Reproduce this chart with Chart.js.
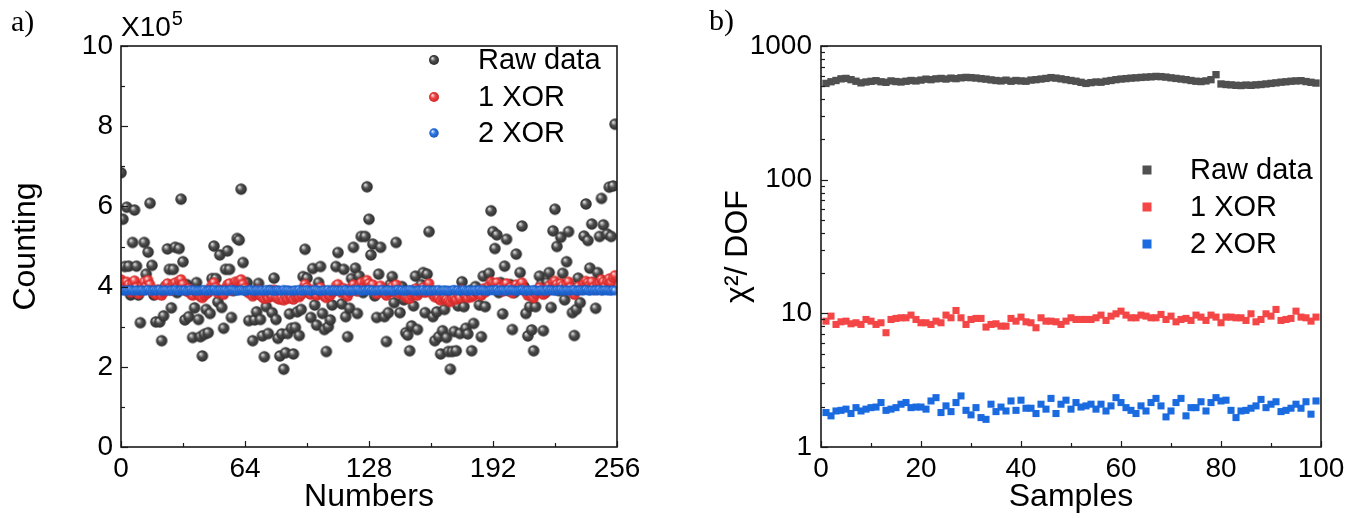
<!DOCTYPE html>
<html><head><meta charset="utf-8">
<script src="https://cdn.jsdelivr.net/npm/chart.js@4.4.1/dist/chart.umd.min.js"></script>
<style>
html,body{margin:0;padding:0;background:#fff;}
#wrap{position:relative;width:1362px;height:518px;overflow:hidden;background:#fff;}
canvas{position:absolute;top:0;}
#c1{left:0;} #c2{left:681px;}
</style></head><body>
<div id="wrap"><canvas id="c1" width="681" height="518"></canvas><canvas id="c2" width="681" height="518"></canvas></div>
<script>
// ---------- Panel a) data (Counting in units of 10^5) ----------
const seriesLabels = ['Raw data', '1 XOR', '2 XOR'];
const numberTicks = [0, 64, 128, 192, 256];
const countingTicks = [0, 2, 4, 6, 8, 10];
const numbers = Array.from({length: 256}, (_, i) => i);
const rawCounts = [
6.84,5.68,4.50,5.98,4.51,3.79,5.10,5.91,4.51,3.79,3.10,4.00,5.10,4.31,4.86,6.08,
4.53,3.79,3.12,3.90,3.12,2.65,3.27,4.00,4.94,4.43,3.47,4.43,4.98,3.85,4.95,6.18,
4.62,3.17,4.05,3.25,3.90,2.73,3.47,4.10,3.18,2.75,2.27,2.81,3.43,2.85,3.33,4.20,
5.01,4.20,3.62,4.79,3.48,2.96,4.43,4.89,4.43,3.23,3.90,4.05,5.20,5.16,6.43,4.60,
3.95,4.10,3.15,3.85,2.65,3.17,3.37,4.08,3.18,2.77,2.25,3.50,2.83,3.90,3.35,4.21,
3.18,2.71,2.27,2.82,1.94,2.35,2.83,3.32,2.96,2.32,2.98,3.37,2.78,3.43,4.25,4.93,
4.21,3.85,3.23,4.45,3.54,3.04,4.10,4.50,3.33,2.93,2.38,3.00,3.17,3.54,3.90,4.50,
4.85,3.95,3.57,4.43,3.25,2.75,3.46,4.20,4.98,4.46,3.33,4.26,5.25,3.85,5.25,6.49,
5.68,4.79,5.06,3.77,3.23,4.31,4.98,3.90,3.25,2.63,3.35,4.05,4.25,3.60,5.10,3.90,
3.35,4.00,3.67,2.85,2.79,2.40,3.02,3.52,4.26,2.93,3.85,4.05,4.35,3.35,4.31,5.37,
3.90,3.25,2.65,3.37,2.75,2.32,2.90,3.43,2.73,2.38,1.94,2.38,2.88,2.40,3.52,2.83,
4.12,3.50,2.96,2.82,3.90,2.40,3.08,4.00,3.85,3.54,2.75,4.26,3.50,3.95,4.33,5.89,
5.37,4.95,5.29,3.85,4.10,3.32,4.51,5.18,3.90,4.05,2.93,3.85,4.81,3.95,4.35,5.51,
4.00,3.33,2.77,3.50,2.92,2.40,3.50,3.90,4.26,4.05,2.90,3.85,4.10,4.35,3.48,5.39,
5.93,5.00,3.90,5.23,4.33,3.67,4.62,5.37,4.00,3.35,2.78,3.43,4.21,3.60,3.95,5.26,
6.06,5.15,4.46,5.56,4.10,3.46,4.35,5.25,6.20,5.54,4.05,5.31,6.48,5.25,6.51,8.05];
const xor1Counts = [
4.18,4.10,3.95,4.12,4.05,3.86,4.08,4.15,3.98,3.82,3.90,4.02,4.12,4.00,4.16,4.05,
3.88,3.85,3.80,3.92,3.84,3.78,3.86,4.02,4.08,3.95,3.90,4.06,4.10,3.98,4.14,4.18,
4.06,3.92,3.88,3.95,3.82,3.78,3.90,3.86,3.80,3.75,3.72,3.78,3.82,3.85,3.96,4.04,
4.10,3.98,3.84,3.92,3.86,3.80,3.95,4.05,4.08,3.90,3.98,4.12,4.10,4.14,4.18,4.06,
3.96,3.88,3.84,3.90,3.76,3.82,3.86,3.92,3.78,3.74,3.70,3.78,3.72,3.82,3.76,3.92,
3.74,3.70,3.68,3.72,3.66,3.74,3.70,3.78,3.72,3.68,3.76,3.82,3.74,3.80,3.95,4.06,
3.98,3.86,3.80,3.92,3.84,3.78,3.90,3.98,3.82,3.76,3.72,3.80,3.78,3.86,3.90,4.02,
4.06,3.92,3.84,3.96,3.82,3.76,3.86,3.98,4.05,3.95,3.88,4.02,4.10,3.96,4.12,4.16,
4.08,4.00,4.05,3.88,3.82,3.95,4.02,3.90,3.84,3.78,3.86,3.92,4.00,3.86,4.05,3.90,
3.82,3.88,3.80,3.74,3.72,3.70,3.78,3.84,3.95,3.78,3.86,3.92,3.98,3.85,3.96,4.08,
3.90,3.80,3.74,3.78,3.70,3.66,3.72,3.76,3.68,3.64,3.62,3.70,3.74,3.68,3.80,3.72,
3.92,3.82,3.76,3.72,3.84,3.74,3.78,3.88,3.86,3.82,3.78,3.95,3.86,3.92,4.02,4.12,
4.08,4.05,4.10,3.96,3.98,3.88,4.04,4.08,3.94,3.98,3.84,3.92,4.05,3.96,4.02,4.10,
3.95,3.86,3.78,3.84,3.76,3.72,3.82,3.90,3.98,3.88,3.80,3.86,3.94,4.02,3.92,4.10,
4.14,4.06,3.96,4.08,4.02,3.92,4.05,4.12,3.98,3.86,3.80,3.90,4.00,3.92,3.96,4.08,
4.14,4.10,4.04,4.12,3.98,3.92,4.06,4.10,4.18,4.12,4.00,4.14,4.20,4.10,4.22,4.28];
const xor2Counts = [
3.91,3.90,3.89,3.91,3.90,3.92,3.90,3.89,3.91,3.90,3.90,3.91,3.89,3.90,3.92,3.90,
3.89,3.91,3.90,3.90,3.92,3.89,3.90,3.91,3.90,3.89,3.91,3.90,3.92,3.90,3.89,3.91,
3.90,3.91,3.89,3.90,3.92,3.90,3.91,3.89,3.90,3.90,3.91,3.92,3.89,3.90,3.91,3.90,
3.92,3.90,3.89,3.91,3.90,3.90,3.91,3.89,3.90,3.92,3.91,3.90,3.89,3.90,3.91,3.90,
3.89,3.90,3.91,3.92,3.90,3.89,3.91,3.90,3.90,3.91,3.89,3.92,3.90,3.91,3.90,3.89,
3.90,3.91,3.90,3.89,3.92,3.90,3.91,3.90,3.89,3.90,3.91,3.90,3.92,3.89,3.90,3.91,
3.91,3.90,3.89,3.90,3.92,3.91,3.90,3.89,3.90,3.91,3.90,3.92,3.89,3.90,3.91,3.90,
3.90,3.89,3.91,3.90,3.92,3.90,3.89,3.91,3.90,3.90,3.92,3.91,3.89,3.90,3.91,3.90,
3.92,3.90,3.91,3.89,3.90,3.91,3.90,3.92,3.89,3.90,3.91,3.90,3.90,3.89,3.91,3.92,
3.90,3.91,3.89,3.90,3.90,3.92,3.91,3.90,3.89,3.90,3.91,3.90,3.92,3.89,3.90,3.91,
3.89,3.90,3.91,3.90,3.92,3.89,3.90,3.91,3.90,3.90,3.89,3.91,3.92,3.90,3.91,3.89,
3.90,3.92,3.90,3.89,3.91,3.90,3.90,3.91,3.89,3.92,3.90,3.91,3.90,3.89,3.90,3.91,
3.91,3.90,3.92,3.89,3.90,3.91,3.90,3.89,3.92,3.90,3.91,3.90,3.89,3.90,3.91,3.92,
3.90,3.89,3.91,3.90,3.90,3.92,3.91,3.89,3.90,3.91,3.90,3.89,3.92,3.90,3.91,3.90,
3.89,3.91,3.90,3.92,3.90,3.89,3.91,3.90,3.90,3.91,3.92,3.89,3.90,3.91,3.90,3.90,
3.92,3.90,3.89,3.91,3.90,3.91,3.90,3.92,3.89,3.90,3.91,3.90,3.90,3.89,3.91,3.90];

// ---------- Panel b) data (chi^2 / DOF) ----------
const sampleTicks = [0, 20, 40, 60, 80, 100];
const chiTicks = [1, 10, 100, 1000];
const samples = Array.from({length: 99}, (_, i) => i + 1);
const rawChi = [
525,540,552,568,572,560,545,530,538,544,550,540,535,548,542,538,545,552,548,556,
565,560,568,572,566,575,570,578,582,580,576,570,565,558,552,548,555,545,552,548,
545,556,560,566,572,580,575,568,560,552,545,535,525,532,538,536,545,552,560,566,
570,575,578,582,585,588,592,590,585,578,572,566,560,552,545,542,548,560,610,520,
515,512,508,506,510,508,512,515,520,525,530,536,540,545,548,550,542,535,528];
const xor1Chi = [
8.74,9.53,8.26,8.64,8.74,8.35,8.50,8.26,9.00,8.74,8.26,8.50,7.16,9.00,9.16,9.26,9.26,9.70,9.00,8.50,
8.50,8.26,8.74,8.50,9.70,9.26,10.50,9.26,8.26,9.00,9.16,9.16,7.89,8.26,8.35,8.02,8.02,9.16,8.74,9.37,
8.64,8.50,7.80,9.26,8.74,8.74,8.64,8.26,8.74,9.26,9.00,9.00,9.00,9.00,9.26,9.70,8.85,9.53,9.92,10.38,
9.70,9.26,9.26,9.70,9.53,9.26,9.26,9.81,9.00,9.53,8.64,9.00,9.16,8.85,9.70,9.37,8.85,9.70,9.37,8.50,
9.37,9.37,9.26,9.26,8.85,9.92,8.64,9.00,9.92,9.53,10.69,8.85,9.00,9.16,10.38,9.37,9.26,8.74,9.37];
const xor2Chi = [
1.81,1.71,1.86,1.88,1.92,1.78,1.97,1.86,1.92,1.97,1.99,2.15,1.88,1.92,1.97,2.09,2.15,1.97,1.99,1.99,
1.92,2.21,2.34,1.81,2.03,1.84,2.15,2.41,1.88,1.74,1.97,1.66,1.61,2.09,1.84,1.99,1.86,2.21,1.88,2.24,
1.95,1.95,1.78,2.09,1.92,2.31,1.78,2.09,2.24,1.92,2.15,1.99,2.03,2.09,1.92,2.09,1.86,2.03,2.34,2.15,
1.97,1.88,1.78,2.03,1.86,2.15,2.31,2.03,1.68,1.86,2.15,2.31,1.71,1.97,1.97,2.18,1.86,2.15,2.34,2.21,
2.24,1.88,1.66,1.86,1.88,1.95,2.03,2.27,1.97,2.09,2.18,1.84,1.88,1.95,2.09,1.95,2.18,1.76,2.21];

// ---------- styling ----------
const FONT = "'Liberation Sans', Arial, sans-serif";
Chart.defaults.font.family = FONT;
Chart.defaults.color = '#000';

function sphere(d, light, base, dark) {
  const s = Math.ceil(d) + 2;
  const c = document.createElement('canvas');
  c.width = s; c.height = s;
  const g = c.getContext('2d');
  const cx = s / 2, cy = s / 2, r = d / 2;
  const grad = g.createRadialGradient(cx - r * 0.35, cy - r * 0.38, r * 0.05, cx, cy, r);
  grad.addColorStop(0, light);
  grad.addColorStop(0.45, base);
  grad.addColorStop(1, dark);
  g.fillStyle = grad;
  g.beginPath(); g.arc(cx, cy, r, 0, Math.PI * 2); g.fill();
  return c;
}
const greyBall = sphere(11.5, '#e6e6e6', '#505050', '#2b2b2b');
const redBall = sphere(10.5, '#ffe0e0', '#f04444', '#d02525');
const blueBall = sphere(9.5, '#e0ecff', '#2f78e0', '#1557c4');
const greyBallL = sphere(10, '#e6e6e6', '#505050', '#2b2b2b');
const redBallL = sphere(10, '#ffe0e0', '#f04444', '#d02525');
const blueBallL = sphere(9.5, '#e0ecff', '#2f78e0', '#1557c4');
const squareColors = ['#505050', '#f44646', '#1a6ae0'];

const pts = (xs, ys) => ys.map((v, i) => ({x: xs[i], y: v}));

function drawFrame(chart, cfg) {
  const {ctx, chartArea: a, scales} = chart;
  ctx.save();
  ctx.strokeStyle = '#1a1a1a';
  ctx.lineWidth = 1.2;
  const tick = (x1, y1, x2, y2) => { ctx.beginPath(); ctx.moveTo(x1, y1); ctx.lineTo(x2, y2); ctx.stroke(); };
  cfg.xMajor.forEach(v => { const p = Math.round(scales.x.getPixelForValue(v)) + 0.5; tick(p, a.bottom, p, a.bottom - 6); });
  cfg.xMinor.forEach(v => { const p = Math.round(scales.x.getPixelForValue(v)) + 0.5; tick(p, a.bottom, p, a.bottom - 4); });
  cfg.yMajor.forEach(v => { const p = Math.round(scales.y.getPixelForValue(v)) + 0.5; tick(a.left, p, a.left + 7, p); });
  cfg.yMinor.forEach(v => { const p = Math.round(scales.y.getPixelForValue(v)) + 0.5; tick(a.left, p, a.left + 4, p); });
  ctx.lineWidth = 1.6;
  ctx.strokeRect(a.left, a.top, a.right - a.left, a.bottom - a.top);
  ctx.restore();
}

function axisX(min, max, ticksArr, title) {
  return {
    type: 'linear', min, max,
    afterBuildTicks: s => { s.ticks = ticksArr.map(v => ({value: v})); },
    ticks: {autoSkip: false, maxRotation: 0, padding: 5, font: {size: 28}, color: '#000'},
    grid: {display: false, drawTicks: false},
    border: {display: false},
    title: {display: true, text: title, font: {size: 32}, color: '#000', padding: {top: 0, bottom: 2}},
    afterFit: s => { s.height = 71; }
  };
}

// ---------- Chart a) ----------
new Chart(document.getElementById('c1'), {
  type: 'scatter',
  data: {
    datasets: [
      {label: seriesLabels[0], data: pts(numbers, rawCounts), pointStyle: greyBall, pointRadius: 5, order: 2},
      {label: seriesLabels[1], data: pts(numbers, xor1Counts), pointStyle: redBall, pointRadius: 5, order: 1},
      {label: seriesLabels[2], data: pts(numbers, xor2Counts), pointStyle: blueBall, pointRadius: 4, order: 0}
    ]
  },
  options: {
    responsive: false, animation: false, events: [],
    layout: {padding: {top: 46, right: 64, bottom: 0, left: 0}},
    plugins: {legend: {display: false}, tooltip: {enabled: false}},
    scales: {
      x: axisX(0, 256, numberTicks, 'Numbers'),
      y: {
        type: 'linear', min: 0, max: 10,
        afterBuildTicks: s => { s.ticks = countingTicks.map(v => ({value: v})); },
        ticks: {padding: 8, font: {size: 28}, color: '#000'},
        grid: {display: false, drawTicks: false},
        border: {display: false},
        title: {display: true, text: 'Counting', font: {size: 32}, color: '#000', padding: {top: 7, bottom: 0}},
        afterFit: s => { s.width = 121; }
      }
    }
  },
  plugins: [{
    id: 'decorA',
    afterDatasetsDraw(chart) {
      drawFrame(chart, {xMajor: numberTicks, xMinor: [32, 96, 160, 224], yMajor: countingTicks, yMinor: [1, 3, 5, 7, 9]});
    },
    afterDraw(chart) {
      const ctx = chart.ctx;
      ctx.save();
      const balls = [greyBallL, redBallL, blueBallL];
      const ys = [60, 97, 133];
      ctx.font = '29px ' + FONT;
      ctx.fillStyle = '#000';
      ctx.textBaseline = 'middle';
      chart.data.datasets.forEach((ds, i) => {
        const b = balls[i];
        ctx.drawImage(b, 434 - b.width / 2, ys[i] - b.height / 2);
        ctx.fillText(ds.label, 478, ys[i] + 1);
      });
      ctx.textBaseline = 'alphabetic';
      ctx.font = '28px ' + FONT;
      ctx.fillText('X10', 121, 36);
      const w = ctx.measureText('X10').width;
      ctx.font = '20px ' + FONT;
      ctx.fillText('5', 121 + w + 1, 25);
      ctx.font = "30px 'Liberation Serif', 'Times New Roman', serif";
      ctx.fillText('a)', 11, 31);
      ctx.restore();
    }
  }]
});

// ---------- Chart b) ----------
const minorLog = [2,3,4,5,6,7,8,9,20,30,40,50,60,70,80,90,200,300,400,500,600,700,800,900];
new Chart(document.getElementById('c2'), {
  type: 'scatter',
  data: {
    datasets: [
      {label: seriesLabels[0], data: pts(samples, rawChi), pointStyle: 'rect', pointRadius: 5.2, borderWidth: 0, backgroundColor: squareColors[0], order: 2},
      {label: seriesLabels[1], data: pts(samples, xor1Chi), pointStyle: 'rect', pointRadius: 5, borderWidth: 0, backgroundColor: squareColors[1], order: 1},
      {label: seriesLabels[2], data: pts(samples, xor2Chi), pointStyle: 'rect', pointRadius: 5, borderWidth: 0, backgroundColor: squareColors[2], order: 0}
    ]
  },
  options: {
    responsive: false, animation: false, events: [],
    layout: {padding: {top: 46, right: 41, bottom: 0, left: 0}},
    plugins: {legend: {display: false}, tooltip: {enabled: false}},
    scales: {
      x: axisX(0, 100, sampleTicks, 'Samples'),
      y: {
        type: 'logarithmic', min: 1, max: 1000,
        afterBuildTicks: s => { s.ticks = chiTicks.map(v => ({value: v})); },
        ticks: {padding: 9, font: {size: 28}, color: '#000', callback: v => String(v)},
        grid: {display: false, drawTicks: false},
        border: {display: false},
        title: {display: true, text: 'χ²/ DOF', font: {size: 32}, color: '#000', padding: {top: 38, bottom: 0}},
        afterFit: s => { s.width = 140; }
      }
    }
  },
  plugins: [{
    id: 'decorB',
    afterDatasetsDraw(chart) {
      drawFrame(chart, {xMajor: sampleTicks, xMinor: [10, 30, 50, 70, 90], yMajor: chiTicks, yMinor: minorLog});
    },
    afterDraw(chart) {
      const ctx = chart.ctx;
      ctx.save();
      const ys = [170, 207, 244];
      ctx.font = '29px ' + FONT;
      ctx.textBaseline = 'middle';
      chart.data.datasets.forEach((ds, i) => {
        ctx.fillStyle = ds.backgroundColor;
        ctx.fillRect(466 - 4.5, ys[i] - 4.5, 9, 9);
        ctx.fillStyle = '#000';
        ctx.fillText(ds.label, 509, ys[i] + 1);
      });
      ctx.textBaseline = 'alphabetic';
      ctx.font = "30px 'Liberation Serif', 'Times New Roman', serif";
      ctx.fillText('b)', 28, 30);
      ctx.restore();
    }
  }]
});
</script>
</body></html>
